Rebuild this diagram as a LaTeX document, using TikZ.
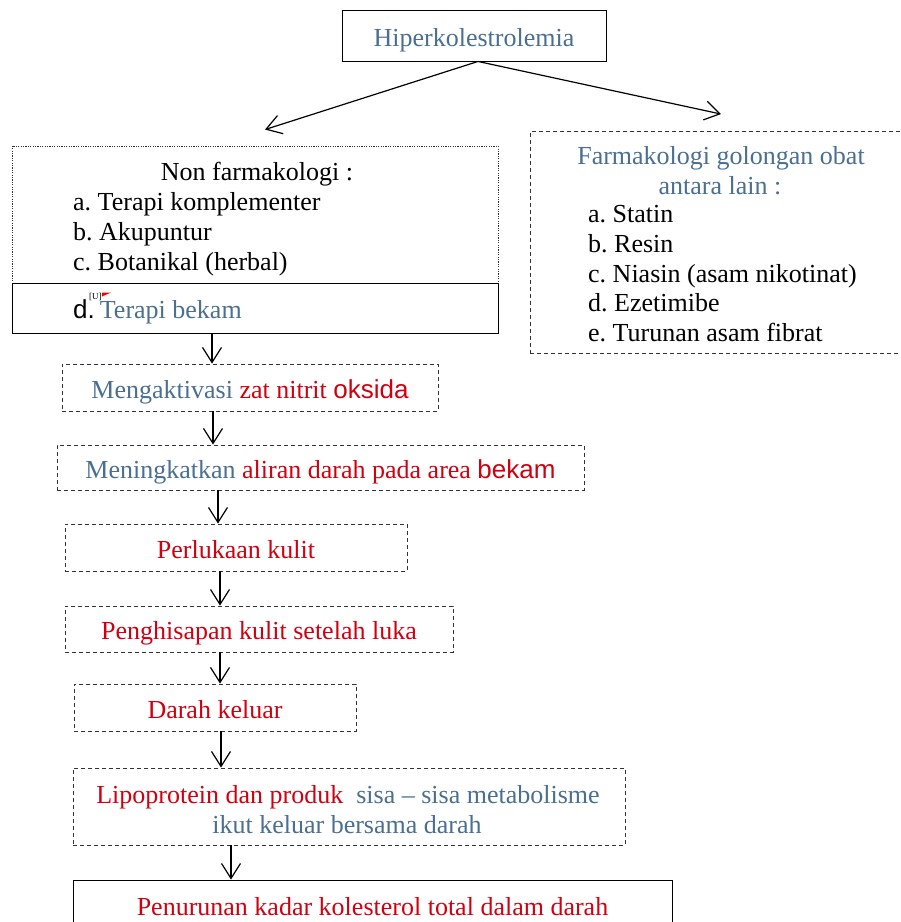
\documentclass[tikz,border=0pt]{standalone}
\usepackage{fontspec}
\setmainfont{Liberation Serif}
\newfontfamily\arial{Liberation Sans}
\usetikzlibrary{arrows.meta}
\definecolor{steel}{RGB}{74,111,144}
\definecolor{darkred}{RGB}{208,0,16}
\frenchspacing

\begin{document}
\begin{tikzpicture}[x=1pt, y=-1pt,
  every node/.style={font=\fontsize{26}{30}\selectfont, inner sep=0pt},
  box/.style={draw=black, line width=0.9pt, text height=21pt, text depth=0pt},
  dashbox/.style={box, draw=black!80, dash pattern=on 4pt off 3pt},
  dotbox/.style={box, draw=black!80, dash pattern=on 1.2pt off 1.2pt},
  arr/.style={-{Straight Barb[length=15pt,width=19pt]}, line width=1.2pt}]

  % Page frame
  \clip (0,0) rectangle (901,922);

  % Top box
  \node[box, minimum width=264, minimum height=51] (hiper) at (474,35.5) {\textcolor{steel}{Hiperkolestrolemia}};

  % Left branch: non farmakologi
  \node[dotbox, minimum width=486, minimum height=137] (nonfarm) at (255,214.5) {};
  \node[anchor=base] (nonfarmhead) at (257,180) {Non farmakologi :};
  \foreach \txt [count=\i] in {a. Terapi komplementer, b. Akupuntur, c. Botanikal (herbal)}
    \node[anchor=base west] (nonfarm\i) at (73,180+30*\i) {\txt};

  % Cupping therapy row
  \node[box, minimum width=486, minimum height=50] (bekam) at (255,308) {};
  \node[anchor=base west] (bekamtxt) at (73,318) {{\arial d.}\kern5pt\textcolor{steel}{Terapi bekam}};
  \node[anchor=base west, font=\fontsize{9}{9}\selectfont] (note) at (89,299) {[U]};
  \fill[red] (note.north east) -- ++(9,0) -- ++(-9,4) -- cycle;

  % Right branch: farmakologi
  \node[dashbox, minimum width=382, minimum height=222] (farm) at (721,242.5) {};
  \node[anchor=base] (farmhead) at (721,164) {\textcolor{steel}{Farmakologi golongan obat}};
  \node[anchor=base] (farmhead2) at (720,194) {\textcolor{steel}{antara lain :}};
  \foreach \txt [count=\i] in {a. Statin, b. Resin, c. Niasin (asam nikotinat), d. Ezetimibe, e. Turunan asam fibrat}
    \node[anchor=base west] (farm\i) at (588,193+29.7*\i) {\txt};

  % Steps of the bekam chain
  \node[dashbox, minimum width=376, minimum height=47] (aktiv) at (250,387.5)
    {\textcolor{steel}{Mengaktivasi} \textcolor{darkred}{zat nitrit {\arial oksida}}};
  \node[dashbox, minimum width=527, minimum height=45] (tingkat) at (320.5,467.5)
    {\textcolor{steel}{Meningkatkan} \textcolor{darkred}{aliran darah pada area {\arial bekam}}};
  \node[dashbox, minimum width=342, minimum height=47] (perluk) at (236,547.5) {\textcolor{darkred}{Perlukaan kulit}};
  \node[dashbox, minimum width=388, minimum height=46] (pengh) at (259,629) {\textcolor{darkred}{Penghisapan kulit setelah luka}};
  \node[dashbox, minimum width=282, minimum height=47] (darah) at (215,707.5) {\textcolor{darkred}{Darah keluar}};
  \node[dashbox, minimum width=552, minimum height=77] (lipo) at (349,806.5) {};
  \node[anchor=base] (lipo1) at (348,803)
    {\textcolor{darkred}{Lipoprotein dan produk}\ \ \textcolor{steel}{sisa \textendash{} sisa metabolisme}};
  \node[anchor=base] (lipo2) at (347,833) {\textcolor{steel}{ikut keluar bersama darah}};

  % Result
  \node[box, minimum width=599, minimum height=50] (final) at (372.5,905)
    {\textcolor{darkred}{Penurunan kadar kolesterol total dalam darah}};

  % Branch arrows
  \draw[arr] ([xshift=4pt]hiper.south) -- ([xshift=10pt,yshift=16pt]nonfarm.north);
  \draw[arr] ([xshift=4pt]hiper.south) -- ([yshift=17pt]farm.north);

  % Chain arrows
  \foreach \a/\b/\x in {bekam/aktiv/212, aktiv/tingkat/213, tingkat/perluk/218, perluk/pengh/220,
                        pengh/darah/220, darah/lipo/221, lipo/final/231}
    \draw[arr] (\a.south -| \x,0) -- (\b.north -| \x,0);

\end{tikzpicture}
\end{document}
